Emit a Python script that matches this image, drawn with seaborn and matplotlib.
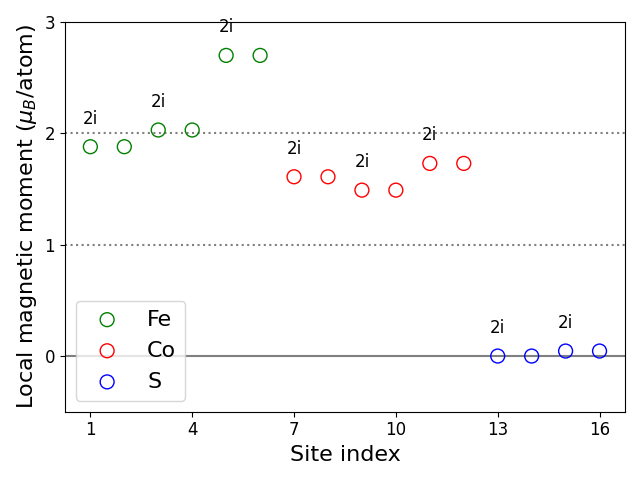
import matplotlib
matplotlib.use("Agg")
import matplotlib.pyplot as plt
import seaborn as sns

fe_sites = [1, 2, 3, 4, 5, 6]
fe_moments = [1.88, 1.88, 2.03, 2.03, 2.70, 2.70]
co_sites = [7, 8, 9, 10, 11, 12]
co_moments = [1.61, 1.61, 1.49, 1.49, 1.73, 1.73]
s_sites = [13, 14, 15, 16]
s_moments = [0.00, 0.00, 0.045, 0.045]

label_sites = [1, 3, 5, 7, 9, 11, 13, 15]
label_moments = [1.88, 2.03, 2.70, 1.61, 1.49, 1.73, 0.00, 0.045]
wyckoff = "2i"

groups = [("Fe", fe_sites, fe_moments, "green"),
          ("Co", co_sites, co_moments, "red"),
          ("S", s_sites, s_moments, "blue")]

fig, ax = plt.subplots(figsize=(6.4, 4.8))
ax.axhline(0, color="gray", lw=1.5)
ax.axhline(1, color="gray", lw=1.5, ls=":")
ax.axhline(2, color="gray", lw=1.5, ls=":")

for name, xs, ys, col in groups:
    sns.scatterplot(x=xs, y=ys, ax=ax, s=100, marker="o", facecolors="none",
                    edgecolor=col, linewidth=1.0, label=name, zorder=3)

for x, y in zip(label_sites, label_moments):
    ax.text(x, y + 0.17, wyckoff, ha="center", va="bottom", fontsize=12)

ax.set_xlim(0.25, 16.75)
ax.set_ylim(-0.5, 3)
ax.set_xticks([1, 4, 7, 10, 13, 16])
ax.set_yticks([0, 1, 2, 3])
ax.tick_params(labelsize=12)
ax.set_xlabel("Site index", fontsize=16)
ax.set_ylabel(r"Local magnetic moment ($\mu_B$/atom)", fontsize=16)
ax.legend(loc="lower left", fontsize=16)
plt.tight_layout()
plt.savefig("out.png", dpi=100)
plt.close()
